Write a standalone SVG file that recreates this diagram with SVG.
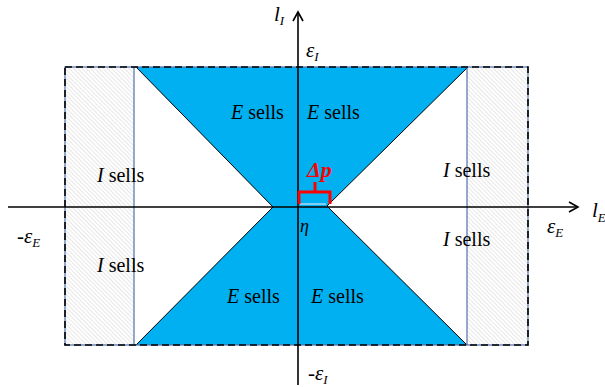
<svg xmlns="http://www.w3.org/2000/svg" width="605" height="387" viewBox="0 0 605 387">
<defs>
<pattern id="hatch" width="3" height="3" patternUnits="userSpaceOnUse" patternTransform="rotate(-45)">
<rect width="3" height="3" fill="#ffffff"/>
<line x1="0" y1="0" x2="0" y2="3" stroke="#d4d4d4" stroke-width="1.1"/>
</pattern>
<marker id="arrow" viewBox="0 0 12 12" refX="10" refY="6" markerWidth="12" markerHeight="12" markerUnits="userSpaceOnUse" orient="auto">
<path d="M1,1 L10,6 L1,11" fill="none" stroke="#000" stroke-width="1.6"/>
</marker>
<style>
.lbl{font-family:"Liberation Serif","DejaVu Serif",serif;font-size:20px;fill:#000}
.it{font-style:italic}
.sym{font-family:"Liberation Serif","DejaVu Serif",serif;font-style:italic;fill:#000}
.edge{stroke:#000;stroke-width:1;fill:none}
.bline{stroke:#4f6fae;stroke-width:1.2;fill:none}
.axis{stroke:#000;stroke-width:1.6;fill:none}
</style>
</defs>
<g id="regions">
<g id="hatch-left"><rect x="65" y="67" width="69" height="278" fill="url(#hatch)"/></g>
<g id="hatch-right"><rect x="467" y="67" width="61" height="278" fill="url(#hatch)"/></g>
<g id="blue-region">
<polygon points="136,67 468,67 327,206 467,345 136,345 273,207" fill="#00b0f0"/>
<line class="edge" x1="136" y1="67" x2="273" y2="207"/>
<line class="edge" x1="273" y1="207" x2="136" y2="345"/>
<line class="edge" x1="468" y1="67" x2="327" y2="206"/>
<line class="edge" x1="327" y1="206" x2="467" y2="345"/>
</g>
<g id="boundary">
<rect class="bline" x="65" y="67" width="463" height="278"/>
<line class="bline" x1="134" y1="67" x2="134" y2="345"/>
<line class="bline" x1="467" y1="67" x2="467" y2="345"/>
<rect x="65" y="67" width="463" height="278" fill="none" stroke="#000" stroke-width="1.6" stroke-dasharray="7,4"/>
</g>
</g>
<g id="connectors">
<line class="axis" x1="8" y1="207" x2="578" y2="207" marker-end="url(#arrow)"/>
<line class="axis" x1="298" y1="385" x2="298" y2="12" marker-end="url(#arrow)"/>
<line x1="300" y1="204" x2="326" y2="204" stroke="#d8e4f4" stroke-width="1.2"/>
<path d="M299,204 V192 H330 V204 M315,192 V182" fill="none" stroke="#ff0000" stroke-width="3"/>
</g>
<g id="labels">
<text class="lbl" x="231" y="119"><tspan class="it">E</tspan> sells</text>
<text class="lbl" x="307" y="119"><tspan class="it">E</tspan> sells</text>
<text class="lbl" x="227" y="303"><tspan class="it">E</tspan> sells</text>
<text class="lbl" x="311" y="303"><tspan class="it">E</tspan> sells</text>
<text class="lbl" x="97" y="182"><tspan class="it">I</tspan> sells</text>
<text class="lbl" x="97" y="272"><tspan class="it">I</tspan> sells</text>
<text class="lbl" x="443" y="177"><tspan class="it">I</tspan> sells</text>
<text class="lbl" x="443" y="246"><tspan class="it">I</tspan> sells</text>
<text x="307" y="177" font-family="Liberation Serif, DejaVu Serif, serif" font-size="22" font-style="italic" font-weight="bold" fill="#ff0000">Δp</text>
<text class="sym" x="300" y="232" font-size="18">η</text>
<text class="sym" x="274" y="21" font-size="21">l<tspan font-size="13" dy="4">I</tspan></text>
<text class="sym" x="306" y="57" font-size="21">ε<tspan font-size="13" dy="4">I</tspan></text>
<text class="sym" x="592" y="217" font-size="21">l<tspan font-size="13" dy="5">E</tspan></text>
<text class="sym" x="547" y="233" font-size="21">ε<tspan font-size="13" dy="4">E</tspan></text>
<text class="sym" x="17" y="243" font-size="21">-ε<tspan font-size="13" dy="4">E</tspan></text>
<text class="sym" x="308" y="380" font-size="21">-ε<tspan font-size="13" dy="4">I</tspan></text>
</g>
</svg>
